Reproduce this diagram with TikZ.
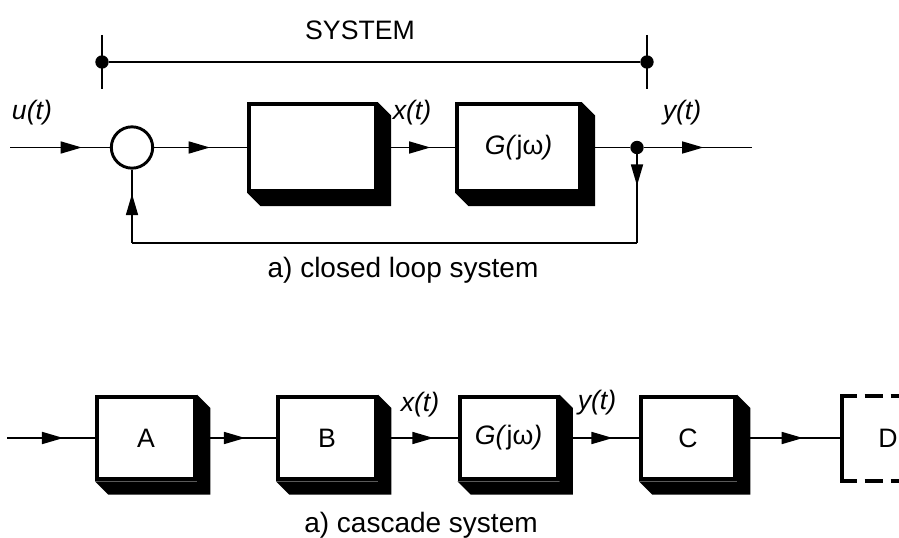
\documentclass[tikz,border=0pt]{standalone}
\usepackage{fontspec}
\setmainfont{Liberation Sans}
\usetikzlibrary{positioning, arrows.meta, decorations.markings}
\tikzset{
block/.style={ % framed block, its shadow comes from \boxshadow
draw, line width=3pt, fill=white,
minimum width=73.5pt, minimum height=62pt, inner sep=0pt},
bigblock/.style={block, minimum width=95pt, minimum height=65pt},
sum/.style={circle, draw, line width=2.2pt, minimum size=31pt, inner sep=0pt},
junction/.style={circle, fill, inner sep=0pt, minimum size=10pt},
signal/.style={font=\fontsize{20}{24}\selectfont\itshape},
caption/.style={font=\fontsize{21}{25}\selectfont},
flow/.style={ % line with the arrow head part way along
draw, line width=1.3pt, postaction={decorate},
decoration={markings, mark=at position #1 with {\arrow{Triangle[length=16pt,width=9pt]}}}},
flow/.default=0.6,
every edge/.style={draw, line width=1.3pt}}

\newcommand{\boxshadow}[1]{%
\fill (#1.north east) -- ([xshift=10pt,yshift=-10pt]#1.north east)
  -- ([xshift=10pt,yshift=-10pt]#1.south east)
  -- ([xshift=10pt,yshift=-10pt]#1.south west)
  -- (#1.south west) -- (#1.south east) -- cycle;}

\newcommand{\Gjw}{\textit{G(}j\textup{ω}\textit{)}}

\begin{document}
\begin{tikzpicture}[x=0.75pt, y=-0.75pt, font=\fontsize{20}{24}\selectfont]
    \useasboundingbox (0,0) rectangle (899,538);

    % closed loop
    \node at (360,30) (sys) {SYSTEM};
    \node[junction] at (102,62) (sysL) {};
    \node[junction] at (647,62) (sysR) {};
    \draw[line width=1.3pt] (sysL) -- (sysR);
    \draw[line width=1.3pt] (sysL.center) ++(0,-27) -- ++(0,54);
    \draw[line width=1.3pt] (sysR.center) ++(0,-27) -- ++(0,54);

    \coordinate (in1) at (10,147.5);
    \node[sum] at (132,147.5) (s) {};
    \node[bigblock] at (312.5,147.5) (K) {};
    \node[bigblock, minimum width=92pt] at (518.5,147.5) (G1) {\Gjw};
    \node[junction] at (637,147.5) (y1) {};
    \coordinate (out1) at (752,147.5);
    \coordinate (fbR) at (637,243);
    \coordinate (fbL) at (132,243);

    \draw (in1) edge[flow=0.72] (s);
    \draw (s) edge[flow=0.6] (K);
    \draw (K.east) edge[flow=0.68] (G1.west);
    \draw (G1.east) edge (y1);
    \draw (y1) edge[flow=0.55] (out1);
    \draw (y1.center) edge[flow=0.4] (fbR);
    \draw (fbR) edge (fbL);
    \draw (fbL) edge[flow=0.67] (s);

    \node[signal] at (32,113) (u1) {u(t)};
    \node[signal] at (412,113) (x1) {x(t)};
    \node[signal] at (682,113) (yl1) {y(t)};
    \node[caption] at (403,270) (cap1) {a) closed loop system};

    % cascade
    \coordinate (in2) at (7,438);
    \node[block] at (146,438) (A) {A};
    \node[block] at (327,438) (B) {B};
    \node[block] at (508.5,438) (G2) {\Gjw};
    \node[block, minimum width=70.5pt] at (688,438) (C) {C};
    \node[minimum width=69pt, minimum height=63pt, inner sep=0pt] at (888,438.5) (D) {D};

    \draw (in2) edge[flow=0.64] (A.west);
    \draw (A.east) edge[flow=0.61] (B.west);
    \draw (B.east) edge[flow=0.70] (G2.west);
    \draw (G2.east) edge[flow=0.67] (C.west);
    \draw (C.east) edge[flow=0.63] (C.east -| D.west);

    \draw[line width=3pt] ([xshift=11.25pt]D.north west) -- (D.north west)
      -- (D.south west) -- ([xshift=11.25pt]D.south west);
    \draw[line width=3pt, dash pattern=on 13.5pt off 6pt, dash phase=13.5pt]
      ([xshift=11.25pt]D.north west) -- ([xshift=30pt]D.north east);
    \draw[line width=3pt, dash pattern=on 13.5pt off 6pt, dash phase=13.5pt]
      ([xshift=11.25pt]D.south west) -- ([xshift=30pt]D.south east);

    \node[signal] at (420,405) (x2) {x(t)};
    \node[signal] at (597,403) (yl2) {y(t)};
    \node[caption] at (421,525) (cap2) {a) cascade system};

    \boxshadow{K} \boxshadow{G1}
    \boxshadow{A} \boxshadow{B} \boxshadow{G2} \boxshadow{C}

\end{tikzpicture}
\end{document}
